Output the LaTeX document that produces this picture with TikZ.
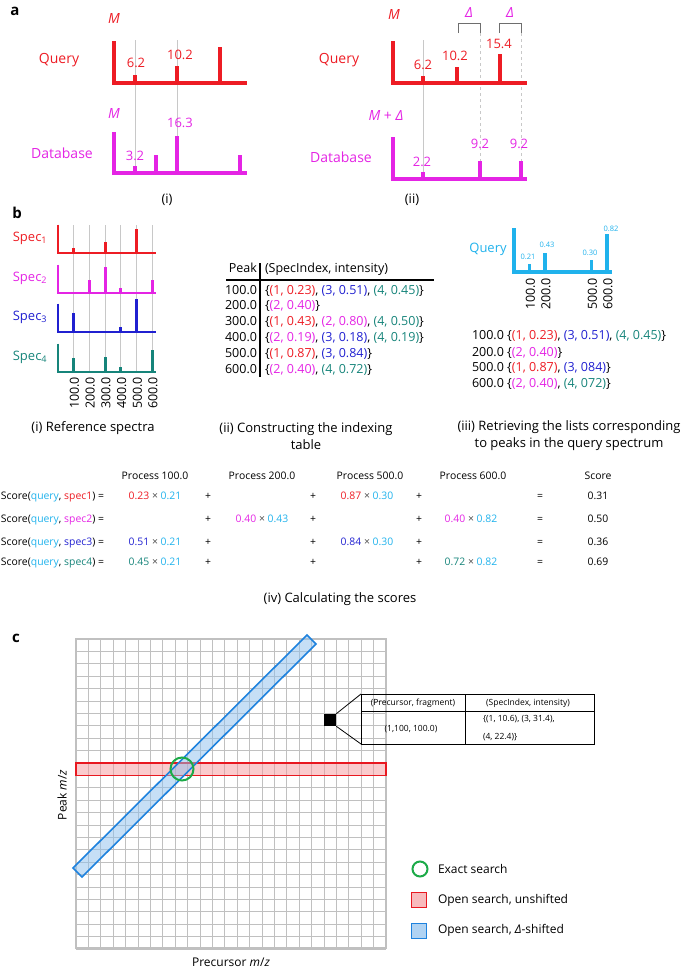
\documentclass[tikz,border=0pt]{standalone}
\usepackage{fontspec}
\setmainfont{Open Sans}
\usepackage{xcolor}
\usetikzlibrary{positioning, calc}

\definecolor{specred}{RGB}{237,28,36}
\definecolor{specmag}{RGB}{228,36,228}
\definecolor{specblue}{RGB}{32,32,208}
\definecolor{specteal}{RGB}{22,132,122}
\definecolor{qcyan}{RGB}{32,178,236}
\definecolor{guide}{RGB}{200,200,200}
\definecolor{bracket}{RGB}{110,110,110}
\definecolor{gridgray}{RGB}{192,192,192}
\definecolor{exactgreen}{RGB}{28,170,72}
\definecolor{openred}{RGB}{232,24,32}
\definecolor{openblue}{RGB}{30,130,222}

\newcommand{\sA}[1]{\textcolor{specred}{#1}}
\newcommand{\sB}[1]{\textcolor{specmag}{#1}}
\newcommand{\sC}[1]{\textcolor{specblue}{#1}}
\newcommand{\sD}[1]{\textcolor{specteal}{#1}}
\newcommand{\qy}[1]{\textcolor{qcyan}{#1}}
\newcommand{\tms}{\ \textcolor{black!70}{×}\ }

\tikzset{
  peakline/.style={line width=3.3pt},
  thinpeak/.style={line width=2.8pt},
  guideline/.style={guide, line width=0.7pt},
  gridline/.style={gridgray, line width=1pt},
  panellabel/.style={font=\fontsize{15}{15}\selectfont\bfseries},
  lbl/.style={font=\fontsize{14}{16}\selectfont},
  val/.style={font=\fontsize{13}{15}\selectfont},
  speclbl/.style={font=\fontsize{13}{15}\selectfont},
  capt/.style={font=\fontsize{13}{17}\selectfont, align=center},
  listtxt/.style={font=\fontsize{12.5}{15}\selectfont, text height=9pt, text depth=3pt},
  scoretxt/.style={font=\fontsize{10.4}{12}\selectfont, text height=7.5pt, text depth=2.5pt},
  tinytxt/.style={font=\fontsize{7.5}{9}\selectfont},
  insettxt/.style={font=\fontsize{8.5}{10}\selectfont},
}

\begin{document}
\begin{tikzpicture}[x=1pt, y=-1pt, every node/.style={inner sep=0pt, outer sep=0pt},
  font=\fontsize{12}{14}\selectfont]
\useasboundingbox (0,0) rectangle (685,970);

% Panel a
\node[panellabel] (labA) at (15,11) {a};

% a (i)
\draw[guideline] (135,40) -- (135,173);
\draw[guideline] (177,40) -- (177,173);
\node[lbl, text=specred] (qryA) at (59,60) {Query};
\node[lbl, text=specred] (mA) at (114,18) {\textit{M}};
\draw[peakline, specred] (114,41) -- (114,83) -- (247,83);
\foreach \px/\ph in {135/75, 177/66, 220/47}
  \draw[peakline, specred] (\px,83) -- (\px,\ph);
\node[val, text=specred] (qA1) at (136,63) {6.2};
\node[val, text=specred] (qA2) at (180,55) {10.2};

\node[lbl, text=specmag] (dbA) at (62,153) {Database};
\node[lbl, text=specmag] (mdA) at (114,113) {\textit{M}};
\draw[peakline, specmag] (114,132) -- (114,173) -- (247,173);
\foreach \px/\ph in {135/166, 156/155, 177/136, 240/155}
  \draw[peakline, specmag] (\px,173) -- (\px,\ph);
\node[val, text=specmag] (dA1) at (135,156) {3.2};
\node[val, text=specmag] (dA2) at (180,123) {16.3};
\node[capt] (capAi) at (167,200) {(i)};

% a (ii)
\draw[guideline] (423,40) -- (423,179);
\draw[guideline, dash pattern=on 3pt off 3pt] (480,33) -- (480,161);
\draw[guideline, dash pattern=on 3pt off 3pt] (521,33) -- (521,161);
\draw[bracket, line width=1pt] (458,33) -- (458,23) -- (480,23) -- (480,33);
\draw[bracket, line width=1pt] (499,33) -- (499,23) -- (521,23) -- (521,33);
\node[lbl, text=specmag] (dlt1) at (469,13) {\textit{Δ}};
\node[lbl, text=specmag] (dlt2) at (510,13) {\textit{Δ}};
\node[lbl, text=specred] (qryB) at (339,60) {Query};
\node[lbl, text=specred] (mB) at (394,14) {\textit{M}};
\draw[peakline, specred] (393,41) -- (393,83) -- (527,83);
\foreach \px/\ph in {423/76, 457/67, 500/54}
  \draw[peakline, specred] (\px,83) -- (\px,\ph);
\node[val, text=specred] (qB1) at (423,65) {6.2};
\node[val, text=specred] (qB2) at (455,56) {10.2};
\node[val, text=specred] (qB3) at (499,44) {15.4};

\node[lbl, text=specmag] (dbB) at (341,157) {Database};
\node[lbl, text=specmag] (mdB) at (386,115) {\textit{M} + \textit{Δ}};
\draw[peakline, specmag] (393,137) -- (393,179) -- (527,179);
\foreach \px/\ph in {423/172, 480/161, 521/161}
  \draw[peakline, specmag] (\px,179) -- (\px,\ph);
\node[val, text=specmag] (dB1) at (422,162) {2.2};
\node[val, text=specmag] (dB2) at (480,144) {9.2};
\node[val, text=specmag] (dB3) at (519,144) {9.2};
\node[capt] (capAii) at (412,200) {(ii)};

% Panel b
\node[panellabel] (labB) at (17,213) {b};

% b (i) reference spectra
\foreach \k in {1,...,6} {
  \draw[guideline] (58+15.7*\k,225) -- (58+15.7*\k,372);
  \node[listtxt, rotate=90, anchor=east, text height=8.5pt, text depth=0pt] (tick\k) at (58+15.7*\k+1,377) {\k00.0};
}
\foreach \n/\col/\by/\pk in {1/specred/253/{1/248,3/242,5/229},
    2/specmag/293/{2/280,3/267,4/288,6/280},
    3/specblue/332/{1/313,4/327,5/299},
    4/specteal/372/{1/358,3/357,4/367,6/350}} {
  \draw[thinpeak, \col] (58,\by-28.5) -- (58,\by) -- (156,\by);
  \foreach \k/\ph in \pk
    \draw[thinpeak, \col] (58+15.7*\k,\by) -- (58+15.7*\k,\ph);
  \node[speclbl, text=\col] (spec\n) at (30,\by-15) {Spec\textsubscript{\n}};
}
\node[capt] (capBi) at (93,428) {(i) Reference spectra};

% b (ii) indexing table
\node[listtxt, anchor=east] (peakhd) at (257,269) {Peak};
\node[listtxt, anchor=west] (entryhd) at (265,269) {(SpecIndex, intensity)};
\draw[line width=2pt] (260,263) -- (260,377);
\draw[line width=1.5pt] (226,280) -- (434,280);
\foreach \pk/\ent [count=\r] in {
    100.0/{\{\sA{(1, 0.23)}, \sC{(3, 0.51)}, \sD{(4, 0.45)}\}},
    200.0/{\{\sB{(2, 0.40)}\}},
    300.0/{\{\sA{(1, 0.43)}, \sB{(2, 0.80)}, \sD{(4, 0.50)}\}},
    400.0/{\{\sB{(2, 0.19)}, \sC{(3, 0.18)}, \sD{(4, 0.19)}\}},
    500.0/{\{\sA{(1, 0.87)}, \sC{(3, 0.84)}\}},
    600.0/{\{\sB{(2, 0.40)}, \sD{(4, 0.72)}\}}} {
  \node[listtxt, anchor=east] (pk\r) at (257,275.2+15.8*\r) {\pk};
  \node[listtxt, anchor=west] (ent\r) at (265,275.2+15.8*\r) {\ent};
}
\node[capt] (capBii) at (306,436) {(ii) Constructing the indexing\\table};

% b (iii) query lists
\node[speclbl, text=qcyan] (qryC) at (488,249) {Query};
\draw[peakline, qcyan] (514,228) -- (514,272) -- (612,272);
\foreach \k/\ph in {1/264, 2/253, 5/260, 6/234} {
  \draw[peakline, qcyan] (514+15.5*\k,272) -- (514+15.5*\k,\ph);
  \node[listtxt, rotate=90, anchor=east, text height=8.5pt, text depth=0pt] (qtick\k) at (514+15.5*\k+1,278) {\k00.0};
}
\node[tinytxt, text=qcyan] (qv1) at (528,257) {0.21};
\node[tinytxt, text=qcyan] (qv2) at (547,245) {0.43};
\node[tinytxt, text=qcyan] (qv3) at (590,253) {0.30};
\node[tinytxt, text=qcyan] (qv4) at (611,229) {0.82};
\foreach \lsttxt/\y [count=\r] in {
    {100.0 \{\sA{(1, 0.23)}, \sC{(3, 0.51)}, \sD{(4, 0.45)}\}}/336,
    {200.0 \{\sB{(2, 0.40)}\}}/353,
    {500.0 \{\sA{(1, 0.87)}, \sC{(3, 084)}\}}/368,
    {600.0 \{\sB{(2, 0.40)}, \sD{(4, 072)}\}}/384}
  \node[listtxt, anchor=west] (lst\r) at (472,\y) {\lsttxt};
\node[capt] (capBiii) at (569,436) {(iii) Retrieving the lists corresponding\\to peaks in the query spectrum};

% b (iv) scores
\foreach \cx/\hdtxt [count=\hc] in {155/Process 100.0, 262/Process 200.0, 370/Process 500.0,
    473/Process 600.0, 598/Score}
  \node[scoretxt] (hd\hc) at (\cx,477) {\hdtxt};
\foreach \y/\who/\pa/\pb/\pcc/\pd/\scv [count=\r] in {
    497/{\sA{spec1}}/{\sA{0.23}\tms\qy{0.21}}/{}/{\sA{0.87}\tms\qy{0.30}}/{}/0.31,
    520/{\sB{spec2}}/{}/{\sB{0.40}\tms\qy{0.43}}/{}/{\sB{0.40}\tms\qy{0.82}}/0.50,
    543/{\sC{spec3}}/{\sC{0.51}\tms\qy{0.21}}/{}/{\sC{0.84}\tms\qy{0.30}}/{}/0.36,
    563/{\sD{spec4}}/{\sD{0.45}\tms\qy{0.21}}/{}/{}/{\sD{0.72}\tms\qy{0.82}}/0.69} {
  \node[scoretxt, anchor=west] (row\r) at (1,\y) {Score(\qy{query}, \who) =};
  \node[scoretxt] (row\r-a) at (155,\y) {\pa};
  \node[scoretxt] (row\r-b) at (262,\y) {\pb};
  \node[scoretxt] (row\r-c) at (367,\y) {\pcc};
  \node[scoretxt] (row\r-d) at (471,\y) {\pd};
  \foreach \px [count=\p] in {208,313,419}
    \node[scoretxt] (plus\r-\p) at (\px,\y) {+};
  \node[scoretxt] (eq\r) at (540,\y) {=};
  \node[scoretxt] (tot\r) at (598,\y) {\scv};
}
\node[capt] (capBiv) at (340,599) {(iv) Calculating the scores};

% Panel c
\node[panellabel] (labC) at (16,638) {c};
\foreach \i in {0,...,25} {
  \draw[gridline] (76+12.4*\i,639) -- (76+12.4*\i,948);
  \draw[gridline] (76,639+12.4*\i) -- (386,639+12.4*\i);
}
\draw[gridgray, line width=2.6pt] (76,639) rectangle (386,948);
% open search, unshifted
\draw[openred, line width=1.3pt, fill=openred!45, fill opacity=0.5] (76,763) rectangle (386,775.4);
% open search, shifted
\draw[openblue, line width=1.6pt, fill=openblue!50, fill opacity=0.5]
  (73,868) -- (82,877) -- (316,644) -- (307,635) -- cycle;
% exact search
\node[circle, draw=exactgreen, line width=2pt, minimum size=23pt] (exact) at (182,769) {};

% inset
\node[fill=black, minimum size=12.5pt] (cell) at (330,720) {};
\coordinate (insNW) at (361,694);
\coordinate (insSE) at (594,744);
\draw[line width=0.9pt] (insNW) rectangle (insSE);
\draw[line width=0.9pt] (361,711) -- (594,711);
\draw[line width=0.9pt] (465,694) -- (465,744);
\draw[line width=0.8pt] (cell.north east) -- (insNW);
\draw[line width=0.8pt] (cell.south east) -- (insNW |- insSE);
\node[insettxt] (insH1) at (413,703) {(Precursor, fragment)};
\node[insettxt] (insH2) at (528,703) {(SpecIndex, intensity)};
\node[insettxt] (insB1) at (411,729) {(1,100, 100.0)};
\node[insettxt, anchor=west] (insB2) at (483,719) {\{(1, 10.6), (3, 31.4),};
\node[insettxt, anchor=west] (insB3) at (483,737) {(4, 22.4)\}};

% axis titles
\node[rotate=90] (yaxis) at (62,795) {Peak \textit{m}/\textit{z}};
\node (xaxis) at (231,962) {Precursor \textit{m}/\textit{z}};

% legend
\node[circle, draw=exactgreen, line width=2pt, minimum size=15pt] (legExact) at (420,869) {};
\node[anchor=west] (legExactT) at (438,869) {Exact search};
\node[draw=openred, fill=openred!30, line width=1.5pt, minimum size=15pt] (legOpen) at (419,900) {};
\node[anchor=west] (legOpenT) at (438,900) {Open search, unshifted};
\node[draw=openblue, fill=openblue!35, line width=1.5pt, minimum size=15pt] (legShift) at (419,931) {};
\node[anchor=west] (legShiftT) at (438,930) {Open search, \textit{Δ}-shifted};
\end{tikzpicture}
\end{document}
